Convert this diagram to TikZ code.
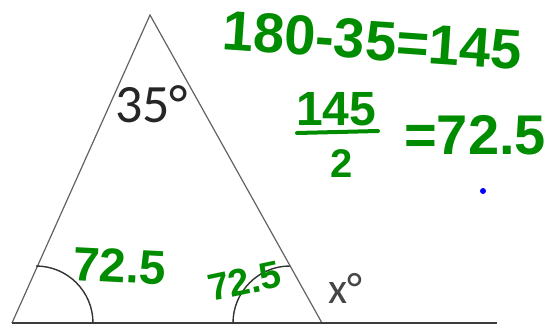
\documentclass[tikz,border=0pt]{standalone}
\usepackage{fontspec}
\newfontfamily\hand{Liberation Sans}
\newfontfamily\print{Carlito}
\definecolor{ink}{RGB}{0,140,0}
\definecolor{pen}{RGB}{70,70,70}
\tikzset{
  handtxt/.style={text=ink, font=\hand\bfseries, inner sep=0pt, anchor=base west},
  printtxt/.style={inner sep=0pt, anchor=base west},
  side/.style={draw=pen!85, line width=1.2pt},
  base/.style={draw=pen!85!black, line width=2pt},
  arcline/.style={draw=black!80, line width=1.4pt},
}
\begin{document}
\begin{tikzpicture}[x=1pt,y=-1pt]
\useasboundingbox (0,0) rectangle (557,327);
\coordinate (A) at (150,15);
\coordinate (B) at (12,323);
\coordinate (C) at (322,323);
\coordinate (E) at (497,323);
\draw[side] (B) -- (A) -- (C);
\draw[base] (B) -- (E);
% angle arcs
\coordinate (L0) at (36,266);
\coordinate (R0) at (290,266);
\draw[arcline] (L0) arc[start angle=-90, end angle=0, radius=57];
\draw[arcline] (R0) arc[start angle=-90, end angle=-180, radius=57];
% printed labels
\node[printtxt, font=\print\fontsize{54}{54}\selectfont, text=black!85] (t35) at (115,122) {35°};
\node[printtxt, font=\print\fontsize{44}{44}\selectfont, text=pen] (tx) at (328,303) {x°};
% handwriting
\node[handtxt, font=\hand\bfseries\fontsize{56}{56}\selectfont, rotate=-4] (l1) at (221,49) {180-35=145};
\node[handtxt, font=\hand\bfseries\fontsize{48}{48}\selectfont] (num) at (296,125) {145};
\coordinate (bl) at (297,133);
\coordinate (br) at (378,131);
\draw[ink, line width=4pt, line cap=round] (bl) -- (br);
\node[handtxt, font=\hand\bfseries\fontsize{40}{40}\selectfont] (den) at (330,177) {2};
\node[handtxt, font=\hand\bfseries\fontsize{56}{56}\selectfont] (res) at (404,154) {=72.5};
\node[handtxt, font=\hand\bfseries\fontsize{48}{48}\selectfont, rotate=-3] (a1) at (72,280) {72.5};
\node[handtxt, font=\hand\bfseries\fontsize{38}{38}\selectfont, rotate=12] (a2) at (211,302) {72.5};
\fill[blue] (483,191) circle (3);
\end{tikzpicture}
\end{document}
